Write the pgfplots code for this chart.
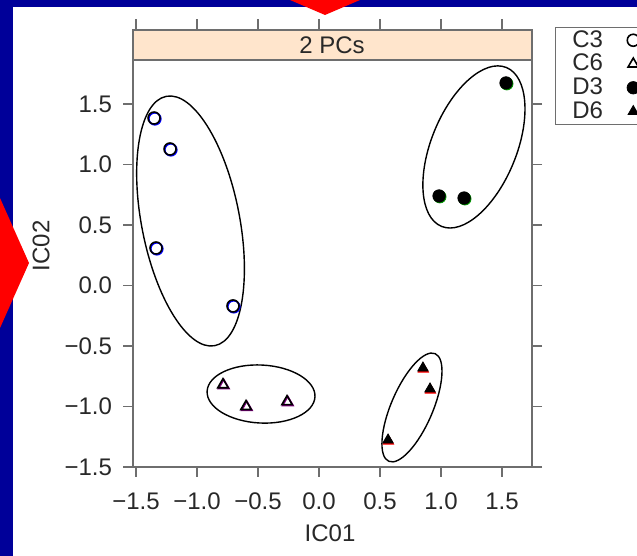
\documentclass[border=0pt]{standalone}
\usepackage{fontspec}
\setmainfont{Liberation Sans}
\usepackage{pgfplots}
\pgfplotsset{compat=1.18}
\definecolor{bgblue}{RGB}{0,0,153}
\definecolor{stripfill}{RGB}{255,229,204}
\definecolor{axgray}{RGB}{110,110,110}
\definecolor{arrowred}{RGB}{255,0,0}
\definecolor{txt}{RGB}{40,40,40}
\begin{document}
\begin{tikzpicture}[x=1pt,y=1pt]
\fill[bgblue] (0,0) rectangle (318.5,278);
\fill[white] (6.5,0) rectangle (318.5,274.5);
\fill[arrowred] (145,278) -- (180,278) -- (162.5,270.5) -- cycle;
\fill[arrowred] (0,179) -- (0,114) -- (14.5,146.5) -- cycle;
\begin{axis}[
  at={(66.5pt,44.5pt)}, anchor=south west, scale only axis,
  width=199.5pt, height=203.5pt,
  xmin=-1.5246, xmax=1.746, ymin=-1.5, ymax=1.8636,
  axis line style={axgray, line width=0.8pt},
  tick style={axgray, line width=0.8pt},
  tick align=outside, major tick length=5pt,
  xtick pos=left, ytick pos=both, yticklabel pos=left,
  xtick={-1.5,-1,-0.5,0,0.5,1,1.5},
  ytick={-1.5,-1,-0.5,0,0.5,1,1.5},
  xticklabels={−1.5,−1.0,−0.5,0.0,0.5,1.0,1.5},
  yticklabels={−1.5,−1.0,−0.5,0.0,0.5,1.0,1.5},
  tick label style={font=\fontsize{12}{14}\selectfont, text=txt},
  xticklabel style={yshift=-4.5pt},
  yticklabel style={xshift=-2pt},
  clip=false,
  legend plot pos=right, legend cell align=left,
  legend style={at={(1.0576,1.0811)}, anchor=north west, draw=axgray, fill=white,
    inner xsep=7.5pt, inner ysep=0.5pt, font=\fontsize{12}{12}\selectfont, text=txt,
    nodes={inner sep=1pt}, row sep=0pt,
    /tikz/every odd column/.append style={column sep=11pt}},
]
% ellipses
\draw[black, line width=0.7pt, rotate around={101:(axis cs:-1.053,0.533)}] (axis cs:-1.053,0.533) ellipse [x radius=63.5pt, y radius=24.5pt];
\draw[black, line width=0.7pt, rotate around={67.8:(axis cs:1.270,1.145)}] (axis cs:1.270,1.145) ellipse [x radius=42.9pt, y radius=21.3pt];
\draw[black, line width=0.7pt, rotate around={-3:(axis cs:-0.475,-0.897)}] (axis cs:-0.475,-0.897) ellipse [x radius=27pt, y radius=14.5pt];
\draw[black, line width=0.7pt, rotate around={66.7:(axis cs:0.762,-1.008)}] (axis cs:0.762,-1.008) ellipse [x radius=29.3pt, y radius=10.4pt];
% coloured shadows
\addplot[only marks, mark=o, mark size=3pt, blue, line width=0.8pt, forget plot, xshift=0.4pt, yshift=-0.4pt]
  coordinates {(-1.352,1.384) (-1.221,1.128) (-1.336,0.310) (-0.705,-0.169)};
\addplot[only marks, mark=triangle, mark size=3pt, violet, line width=0.8pt, forget plot, xshift=0.4pt, yshift=-0.4pt]
  coordinates {(-0.787,-0.82) (-0.598,-1.00) (-0.262,-0.96)};
\addplot[only marks, mark=*, mark size=3.1pt, green!60!black, forget plot, xshift=0.4pt, yshift=-0.4pt]
  coordinates {(1.533,1.674) (0.984,0.740) (1.189,0.723)};
\addplot[only marks, mark=triangle*, mark size=3pt, red, forget plot, xshift=0.2pt, yshift=-0.6pt]
  coordinates {(0.852,-0.682) (0.910,-0.855) (0.566,-1.277)};
% black marks
\addplot[only marks, mark=o, mark size=3pt, black, line width=0.8pt]
  coordinates {(-1.352,1.384) (-1.221,1.128) (-1.336,0.310) (-0.705,-0.169)};
\addlegendentry{C3}
\addplot[only marks, mark=triangle, mark size=3pt, black, line width=0.8pt]
  coordinates {(-0.787,-0.82) (-0.598,-1.00) (-0.262,-0.96)};
\addlegendentry{C6}
\addplot[only marks, mark=*, mark size=3.1pt, black]
  coordinates {(1.533,1.674) (0.984,0.740) (1.189,0.723)};
\addlegendentry{D3}
\addplot[only marks, mark=triangle*, mark size=3pt, black]
  coordinates {(0.852,-0.682) (0.910,-0.855) (0.566,-1.277)};
\addlegendentry{D6}
% top ticks above the strip
\draw[axgray, line width=0.8pt] (axis cs:-1.5,1.8636) ++(0pt,15pt) -- ++(0pt,5.5pt);
\draw[axgray, line width=0.8pt] (axis cs:-1,1.8636) ++(0pt,15pt) -- ++(0pt,5.5pt);
\draw[axgray, line width=0.8pt] (axis cs:-0.5,1.8636) ++(0pt,15pt) -- ++(0pt,5.5pt);
\draw[axgray, line width=0.8pt] (axis cs:0,1.8636) ++(0pt,15pt) -- ++(0pt,5.5pt);
\draw[axgray, line width=0.8pt] (axis cs:0.5,1.8636) ++(0pt,15pt) -- ++(0pt,5.5pt);
\draw[axgray, line width=0.8pt] (axis cs:1,1.8636) ++(0pt,15pt) -- ++(0pt,5.5pt);
\draw[axgray, line width=0.8pt] (axis cs:1.5,1.8636) ++(0pt,15pt) -- ++(0pt,5.5pt);
\end{axis}
\filldraw[fill=stripfill, draw=axgray, line width=0.8pt] (66.5,248) rectangle (266,263);
\node[font=\fontsize{12}{14}\selectfont, text=txt] at (166,255.5) {2 PCs};
\node[font=\fontsize{12}{14}\selectfont, text=txt] at (165,11.5) {IC01};
\node[font=\fontsize{12}{14}\selectfont, text=txt, rotate=90] at (20.5,155) {IC02};
\pgfresetboundingbox
\path[use as bounding box] (0,0) rectangle (318.5,278);
\end{tikzpicture}
\end{document}
